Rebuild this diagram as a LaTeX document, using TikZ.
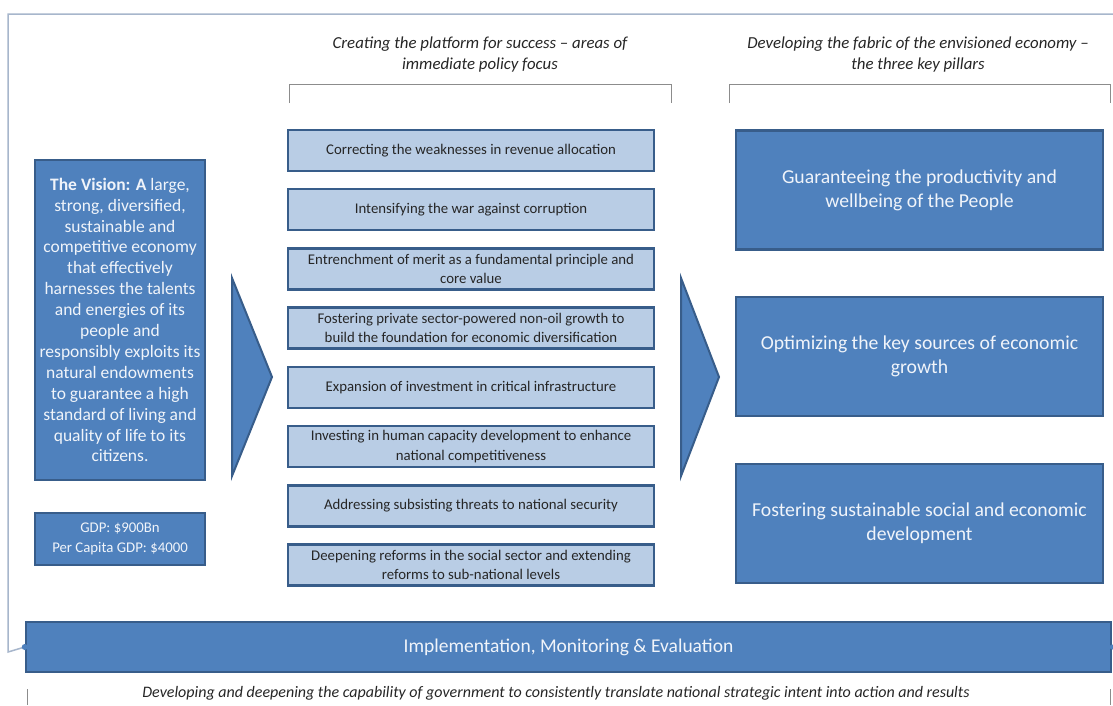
\documentclass[tikz,border=0pt]{standalone}
\usepackage{fontspec}
\setmainfont{Carlito}
\definecolor{dblue}{HTML}{4F81BD}
\definecolor{dborder}{HTML}{385D8A}
\definecolor{lblue}{HTML}{B9CDE5}
\definecolor{frame}{HTML}{A7B6CC}
\definecolor{bracket}{HTML}{8C8C8C}
\definecolor{ltext}{HTML}{F0F4FA}
\tikzset{
  darkbox/.style={draw=dborder, fill=dblue, line width=2.5pt, text=ltext, align=center, inner sep=0pt},
  lightbox/.style={draw=dborder, fill=lblue, line width=2.5pt, text=black!85, align=center, inner sep=0pt,
     minimum width=366pt, minimum height=41pt, font=\fontsize{14.8}{19.5}\selectfont},
  pillar/.style={darkbox, minimum width=367pt, minimum height=119pt, font=\fontsize{19.7}{24}\selectfont},
  heading/.style={align=center, inner sep=0pt, text=black!85, font=\itshape\fontsize{16.8}{21}\selectfont},
  chevron/.style={draw=dborder, fill=dblue, line width=2pt, line join=miter},
  bracketline/.style={draw=bracket, line width=1pt},
  frameline/.style={draw=frame, line width=1.5pt}
}
\begin{document}
\begin{tikzpicture}[x=1pt,y=-1pt]
\useasboundingbox (0,0) rectangle (1113,705);
\fill[white] (0,0) rectangle (1113,705);

% outer frame
\coordinate (ftr) at (1113,14);
\coordinate (ftl) at (8,14);
\coordinate (fbl) at (8,652);

% bar
\node[darkbox, minimum width=1085pt, minimum height=50pt, font=\fontsize{19.5}{22}\selectfont] (bar) at (568.5,647) {Implementation, Monitoring \& Evaluation};
\draw[frameline] (ftr) -- (ftl) -- (fbl) -- (bar.west);
\fill[dblue] (bar.west) circle (3pt);
\fill[dblue] (bar.east) circle (2.5pt);

% headings and brackets
\node[heading] (h1) at (480,54.5) {Creating the platform for success -- areas of\\immediate policy focus};
\node[heading] (h2) at (918,54.5) {Developing the fabric of the envisioned economy --\\the three key pillars};
\coordinate (b1a) at (289,103); \coordinate (b1b) at (289,84);
\coordinate (b1c) at (671,84); \coordinate (b1d) at (671,103);
\draw[bracketline] (b1a) -- (b1b) -- (b1c) -- (b1d);
\coordinate (b2a) at (729,103); \coordinate (b2b) at (729,84);
\coordinate (b2c) at (1110,84); \coordinate (b2d) at (1110,103);
\draw[bracketline] (b2a) -- (b2b) -- (b2c) -- (b2d);

% bottom text and bracket
\node[heading, font=\itshape\fontsize{16}{18}\selectfont] (foot) at (556,693) {Developing and deepening the capability of government to consistently translate national strategic intent into action and results};
\coordinate (f1a) at (27,689); \coordinate (f1b) at (27,705);
\coordinate (f2a) at (1110,689); \coordinate (f2b) at (1110,705);
\draw[bracketline] (f1a) -- (f1b);
\draw[bracketline] (f2a) -- (f2b);

% vision
\node[darkbox, minimum width=170pt, minimum height=320pt, font=\fontsize{17.5}{20.9}\selectfont] (vision) at (120,320)
{\textbf{The Vision:  A} large,\\strong, diversified,\\sustainable and\\competitive economy\\that effectively\\harnesses the talents\\and energies of its\\people and\\responsibly exploits its\\natural endowments\\to guarantee  a high\\standard of living and\\quality of life to its\\citizens.};
\node[darkbox, minimum width=170pt, minimum height=52pt, font=\fontsize{14.8}{20}\selectfont] (gdp) at (120,539)
{GDP: \$900Bn\\Per Capita GDP: \$4000};

% chevrons
\draw[chevron] (232,278) -- (272,377) -- (232,476) -- cycle;
\draw[chevron] (681,278) -- (719,377) -- (681,476) -- cycle;

% middle boxes
\node[lightbox] (m1) at (471,150.5) {Correcting the weaknesses in revenue  allocation};
\node[lightbox] (m2) at (471,209.5) {Intensifying the war against corruption};
\node[lightbox] (m3) at (471,269) {Entrenchment of merit as a fundamental principle  and\\core value};
\node[lightbox] (m4) at (471,328) {Fostering private sector-powered non-oil  growth to\\build the foundation  for economic diversification};
\node[lightbox] (m5) at (471,387.5) {Expansion of investment in critical infrastructure};
\node[lightbox] (m6) at (471,446.5) {Investing in human capacity development  to enhance\\national competitiveness};
\node[lightbox] (m7) at (471,506) {Addressing subsisting threats to national security};
\node[lightbox] (m8) at (471,565) {Deepening reforms in the social sector and extending\\reforms to sub-national  levels};

% pillars
\node[pillar] (p1) at (919.5,190) {Guaranteeing the productivity and\\wellbeing of the People};
\node[pillar] (p2) at (919.5,356.5) {Optimizing the key sources of economic\\growth};
\node[pillar] (p3) at (919.5,523.5) {Fostering sustainable social and economic\\development};
\end{tikzpicture}
\end{document}
